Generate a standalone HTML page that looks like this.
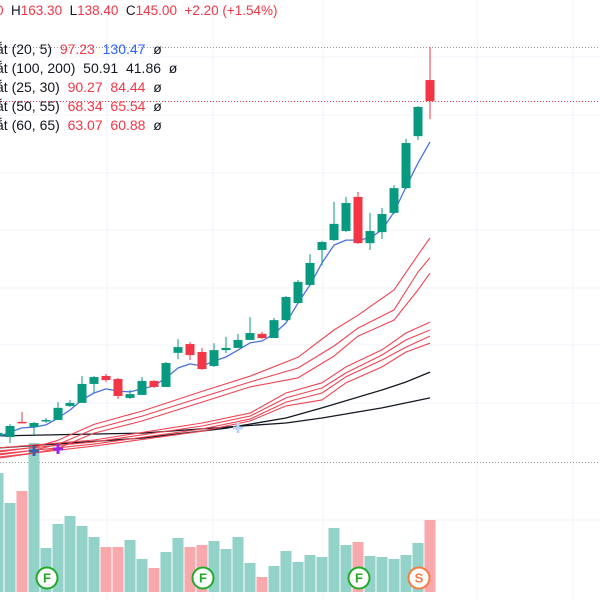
<!DOCTYPE html>
<html><head><meta charset="utf-8"><style>
html,body{margin:0;padding:0;background:#fff;}
#wrap{position:relative;width:600px;height:600px;overflow:hidden;font-family:"Liberation Sans","DejaVu Sans",sans-serif;}
svg{position:absolute;left:0;top:0;}
.t{position:absolute;font-size:14px;white-space:nowrap;color:#131722;}
.r{color:#f23645}.b{color:#2962ff}
</style></head><body>
<div id="wrap">
<svg id="svg" width="600" height="600"></svg>
<div class="t" style="left:-4px;top:3px;font-size:13.5px"><span class="r">0</span>&nbsp; H<span class="r">163.30</span>&nbsp; L<span class="r">138.40</span>&nbsp; C<span class="r">145.00</span>&nbsp; <span class="r">+2.20 (+1.54%)</span></div>
<div class="t" style="left:-4px;top:41px">ắt (20, 5)&nbsp; <span class="r">97.23</span>&nbsp; <span class="b">130.47</span>&nbsp; ø</div>
<div class="t" style="left:-4px;top:60px">ắt (100, 200)&nbsp; 50.91&nbsp; 41.86&nbsp; ø</div>
<div class="t" style="left:-4px;top:79px">ắt (25, 30)&nbsp; <span class="r">90.27</span>&nbsp; <span class="r">84.44</span>&nbsp; ø</div>
<div class="t" style="left:-4px;top:98px">ắt (50, 55)&nbsp; <span class="r">68.34</span>&nbsp; <span class="r">65.54</span>&nbsp; ø</div>
<div class="t" style="left:-4px;top:117px">ắt (60, 65)&nbsp; <span class="r">63.07</span>&nbsp; <span class="r">60.88</span>&nbsp; ø</div>
</div>
<script>
const opens=[23.2,22.8,28.3,26.4,28.6,29.0,34.1,35.2,42.1,45.0,43.9,37.0,38.1,43.2,41.0,53.4,56.6,53.7,48.6,54.4,55.2,58.1,60.3,58.8,65.3,71.5,78.1,90.8,94.4,97.7,110.1,93.3,97.3,104.3,113.3,132.2,152.6];
const highs=[25.3,27.5,31.9,28.3,29.7,35.5,36.3,45.0,45.0,45.7,44.3,39.9,44.6,43.5,50.1,58.4,57.3,55.2,56.9,59.2,60.3,66.4,61.0,66.1,74.1,79.9,89.3,94.1,108.3,110.1,111.9,104.3,106.1,114.4,131.2,143.2,164.6];
const lows=[21.7,20.6,27.9,23.5,27.9,29.0,33.7,35.2,38.8,42.8,36.6,36.6,38.1,40.6,41.0,51.1,50.8,47.2,48.3,53.3,55.2,58.1,58.4,58.8,65.0,71.2,77.7,85.3,94.1,97.3,93.0,90.8,94.8,103.9,113.0,130.8,138.4];
const closes=[24.3,26.8,27.9,27.9,29.0,33.4,35.2,42.1,44.6,43.5,37.7,38.4,43.2,41.0,49.7,55.5,52.6,47.5,54.4,55.2,58.1,60.6,58.8,65.3,73.7,79.2,86.1,93.7,100.3,107.9,93.3,97.7,103.9,113.3,129.7,142.8,145.0];
const volumes=[119,89,101,149,44,68,76,66,55,45,45,52,33,24,40,54,45,47,51,43,55,29,15,26,41,30,37,35,64,47,50,36,35,33,37,49,72];
const volUp=[1,1,0,1,1,1,1,1,1,0,0,1,1,0,1,1,0,0,1,1,1,1,0,1,1,1,1,1,1,1,0,1,1,1,1,1,0];
const ema5=[22.8,24.6,26.1,26.4,27.2,29.7,32.6,36.3,38.8,40.3,39.5,39.2,40.3,41.4,44.3,47.9,49.4,48.6,50.4,51.9,54.4,57.0,57.7,60.3,64.3,71.5,78.1,86.1,92.6,94.4,94.4,95.2,98.1,104.6,113.7,122.4,130.1];
const upIdx=[0,3,5,8,12,17,21,25,28,30,33,35,36];
const maUp1=[17.3,19.1,21.6,27.4,32.2,39.4,44.9,51.8,61.7,67.1,76.3,89.0,95.2];
const maUp2=[16.2,18.0,20.1,25.7,30.4,37.3,42.8,47.9,55.9,62.4,69.0,82.8,88.0];
const maUp3=[15.1,16.9,18.7,24.2,28.6,35.5,41.0,44.3,52.2,59.5,65.3,76.3,82.4];
const loIdx=[0,8,17,21,24,27,29,32,34,36];
const maLo1=[18.8,21.7,27.9,31.5,38.8,42.5,48.3,54.5,60.6,64.6];
const maLo2=[17.7,21.0,26.8,30.4,37.0,40.6,46.1,52.6,58.1,61.7];
const maLo3=[16.6,20.2,25.7,29.3,35.5,38.8,44.7,50.8,55.5,59.5];
const maLo4=[15.5,19.5,24.9,28.6,34.1,36.3,42.5,48.3,53.7,56.9];
const blkIdx=[0,12,19,24,27,32,34,36];
const ma100=[18.8,22.4,26.0,29.7,33.4,39.9,42.8,46.4];
const ma200=[23.2,24.2,26.4,27.9,29.7,33.4,35.2,37.0];
const badgeIdx=[4,17,30,35];
const badgeTxt=['F','F','F','S'];

const NS='http://www.w3.org/2000/svg';
const svg=document.getElementById('svg');
const X=i=>10+12*(i-1);
const Y=p=>499.7-2.75*p;
const VY=v=>592-v;
function mk(tag,at){const e=document.createElementNS(NS,tag);for(const k in at)e.setAttribute(k,at[k]);svg.appendChild(e);return e;}
[57,115,173,230,288,345,403,520].forEach(y=>{const g=mk('line',{x1:0,x2:600,y1:y,y2:y,stroke:'#f0f3fa','stroke-width':1});

});
[107,213,323,477,573].forEach(x=>{const g=mk('line',{x1:x,x2:x,y1:0,y2:600,stroke:'#f0f3fa','stroke-width':1});

});
let d1=mk('line',{x1:0,x2:600,y1:47.5,y2:47.5,stroke:'#9598a1','stroke-dasharray':'1 2','stroke-width':1});


let d2=mk('line',{x1:0,x2:600,y1:101.5,y2:101.5,stroke:'#f23645','stroke-dasharray':'1 2','stroke-width':1});


let d3=mk('line',{x1:0,x2:600,y1:462.5,y2:462.5,stroke:'#9598a1','stroke-dasharray':'1 2','stroke-width':1});


volumes.forEach((v,i)=>{const r=mk('rect',{x:X(i)-5.5,y:VY(v),width:11,height:v,fill:volUp[i]?'#92d2c8':'#f7a9ad'});

});
function line(idx,vals,color,w,name){const pts=vals.map((v,k)=>X(idx?idx[k]:k)+','+Y(v).toFixed(1)).join(' ');
const l=mk('polyline',{points:pts,fill:'none',stroke:color,'stroke-width':w,'stroke-linejoin':'round'});

}
line(blkIdx,ma200,'#131722',1.3,'ma-200-line');
line(blkIdx,ma100,'#131722',1.3,'ma-100-line');
line(loIdx,maLo4,'#ef4452',1.1,'ma-65-line');
line(loIdx,maLo3,'#ef4452',1.1,'ma-60-line');
line(loIdx,maLo2,'#ef4452',1.1,'ma-55-line');
line(loIdx,maLo1,'#ef4452',1.1,'ma-50-line');
line(upIdx,maUp3,'#ef4452',1.1,'ma-30-line');
line(upIdx,maUp2,'#ef4452',1.1,'ma-25-line');
line(upIdx,maUp1,'#ef4452',1.1,'ma-20-line');
line(null,ema5,'#4a72e0',1.3,'ema-5-line');
opens.forEach((o,i)=>{const c=closes[i];const col=c>=o?'#089981':'#f23645';const x=X(i);
const w=mk('line',{x1:x,x2:x,y1:Y(highs[i]),y2:Y(lows[i]),stroke:col,'stroke-width':1});


const top=Math.min(Y(o),Y(c));const h=Math.max(1.5,Math.abs(Y(o)-Y(c)));
const b=mk('rect',{x:x-4.5,y:top,width:9,height:h,fill:col});

});
function cross(x,y,col,name){const g=mk('path',{d:`M${x-5} ${y}H${x+5}M${x} ${y-5}V${y+5}`,stroke:col,'stroke-width':3});

}
cross(34,451,'#3d5fa8','signal-marker-blue');
cross(58,449,'#9c27e0','signal-marker-purple');
cross(238,428,'#bcd3f5','signal-marker-light');
badgeIdx.forEach((bi,k)=>{const x=X(bi)+1,y=578;const col=badgeTxt[k]==='S'?'#f57c42':'#22ab2a';
const c=mk('circle',{cx:x,cy:y,r:10.5,fill:'#fff',stroke:col,'stroke-width':2});


const t=mk('text',{x:x,y:y+4.5,'text-anchor':'middle','font-size':13,'font-weight':'bold',fill:col,'font-family':'Liberation Sans, sans-serif'});
t.textContent=badgeTxt[k];

});
</script>
</body></html>
